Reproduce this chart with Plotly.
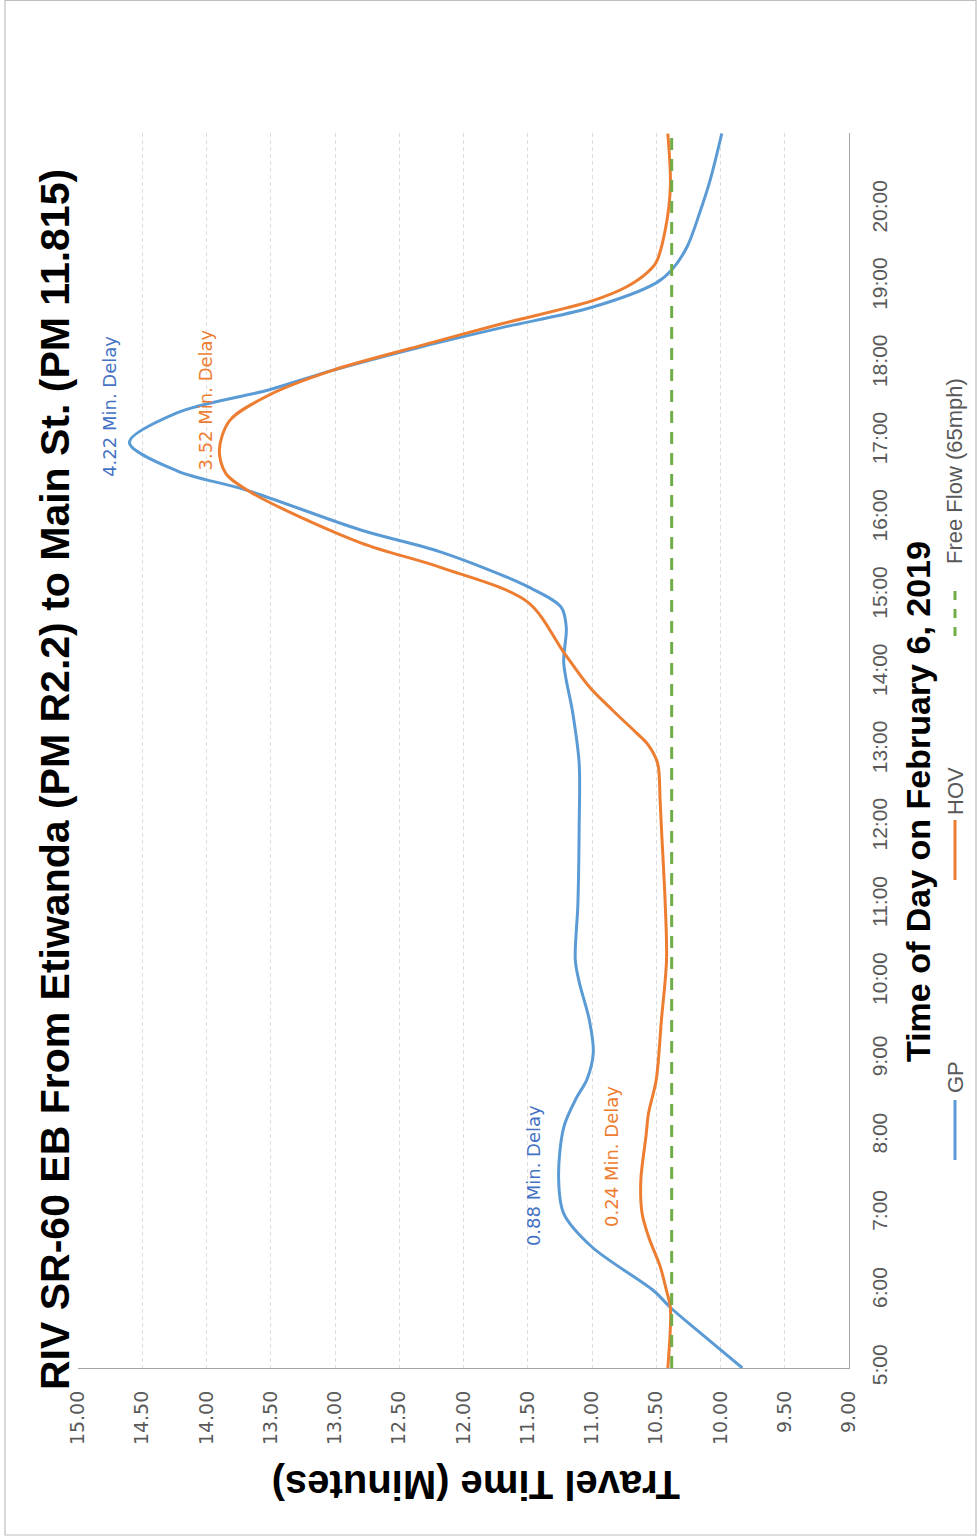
import plotly.graph_objects as go

# ---- data -------------------------------------------------------------
gp_times = ["05:00", "05:30", "05:47", "06:00", "06:34", "07:00", "07:28", "08:07",
            "08:30", "08:44", "09:05", "09:30", "10:00", "10:17", "11:00", "12:00",
            "12:50", "13:29", "14:08", "14:35", "14:51", "15:07", "15:34", "15:51",
            "16:22", "16:37", "16:59", "17:22", "17:40", "17:55", "18:13",
            "18:28", "18:44", "19:03", "19:13", "19:31", "19:58", "20:23", "20:59"]
gp_minutes = [9.83, 10.19, 10.39, 10.52, 11.00, 11.22, 11.26, 11.22,
              11.12, 11.04, 10.99, 11.02, 11.10, 11.13, 11.11, 11.10,
              11.10, 11.15, 11.22, 11.20, 11.24, 11.50, 12.18, 12.80,
              13.69, 14.23, 14.60, 14.23, 13.51, 13.02, 12.34,
              11.71, 11.00, 10.50, 10.38, 10.26, 10.16, 10.08, 9.99]

hov_times = ["05:00", "05:47", "06:00", "06:19", "06:42", "07:00", "07:26", "08:00",
             "08:18", "08:44", "09:30", "10:17", "11:00", "12:00", "12:21", "12:50",
             "13:05", "13:13", "13:31", "13:49", "14:16", "14:55", "15:22", "15:41",
             "16:20", "16:35", "16:53", "17:16", "17:36", "17:55", "18:14", "18:31",
             "18:49", "19:00", "19:11", "19:19", "19:44", "20:18", "20:59"]
hov_minutes = [10.41, 10.39, 10.42, 10.47, 10.56, 10.61, 10.62, 10.58,
               10.56, 10.50, 10.46, 10.42, 10.43, 10.46, 10.47, 10.49,
               10.57, 10.65, 10.84, 11.02, 11.22, 11.50, 12.18, 12.80,
               13.65, 13.85, 13.90, 13.82, 13.51, 13.02, 12.34, 11.71,
               11.00, 10.73, 10.57, 10.50, 10.43, 10.39, 10.41]

free_flow_minutes = 10.38
free_flow_times = ["05:00", "20:59"]

# delay call-outs: time of the peak and delay over free flow, in minutes
gp_delay_times = ["07:28", "16:59"]
gp_delays = [0.88, 4.22]
hov_delay_times = ["07:26", "16:53"]
hov_delays = [0.24, 3.52]

time_ticks = ["5:00", "6:00", "7:00", "8:00", "9:00", "10:00", "11:00", "12:00",
              "13:00", "14:00", "15:00", "16:00", "17:00", "18:00", "19:00", "20:00"]
minute_ticks = [9.0, 9.5, 10.0, 10.5, 11.0, 11.5, 12.0, 12.5, 13.0, 13.5, 14.0, 14.5, 15.0]


def hours(t):
    h, m = t.split(":")
    return int(h) + int(m) / 60.0


GP_COLOR = "#5B9BD5"
HOV_COLOR = "#ED7D31"
FF_COLOR = "#70AD47"
TEXT_GRAY = "#595959"
SANS = "Liberation Sans, Arial, sans-serif"
WIDE = "DejaVu Sans, Verdana, sans-serif"

# plot-area box in pixels, used to place the rotated decorations
W, H = 980, 1538
L, R, T, B = 78, 849, 133, 1368


def px(x):
    return (x - L) / (R - L)


def py(y):
    return (B - y) / (B - T)


fig = go.Figure()

fig.add_trace(go.Scatter(
    x=gp_minutes, y=[hours(t) for t in gp_times], name="GP", mode="lines",
    line=dict(color=GP_COLOR, width=3, shape="spline", smoothing=0.9),
    hoverinfo="skip"))
fig.add_trace(go.Scatter(
    x=hov_minutes, y=[hours(t) for t in hov_times], name="HOV", mode="lines",
    line=dict(color=HOV_COLOR, width=3, shape="spline", smoothing=0.9),
    hoverinfo="skip"))
fig.add_trace(go.Scatter(
    x=[free_flow_minutes] * len(free_flow_times),
    y=[hours(t) for t in free_flow_times], name="Free Flow (65mph)", mode="lines",
    line=dict(color=FF_COLOR, width=3, dash="12px,9px"),
    hoverinfo="skip"))

annotations = []

# delay labels placed beside the peaks they describe
label_offsets = {"GP": [(-25, 2), (-20, 36)], "HOV": [(-30, 24), (-14, 50)]}
for name, color, times, delays in (("GP", "#4472C4", gp_delay_times, gp_delays),
                                    ("HOV", HOV_COLOR, hov_delay_times, hov_delays)):
    for (t, d), (dx, dy) in zip(zip(times, delays), label_offsets[name]):
        annotations.append(dict(
            x=free_flow_minutes + d, y=hours(t), xref="x", yref="y",
            text=f"{d:.2f} Min. Delay", showarrow=False, textangle=-90,
            xshift=dx, yshift=dy,
            font=dict(family=WIDE, size=18, color=color)))

# chart title
annotations.append(dict(
    x=px(55), y=py(780), xref="paper", yref="paper",
    text="RIV SR-60 EB From Etiwanda (PM R2.2) to Main St. (PM 11.815)",
    showarrow=False, textangle=-90, xanchor="center", yanchor="middle",
    font=dict(family=SANS, size=41, color="#000000", weight="bold")))

# axis titles
annotations.append(dict(
    x=px(918), y=py(801), xref="paper", yref="paper",
    text="Time of Day on February 6, 2019",
    showarrow=False, textangle=-90, xanchor="center", yanchor="middle",
    font=dict(family=SANS, size=34, color="#000000", weight="bold")))
annotations.append(dict(
    x=px(476), y=py(1485), xref="paper", yref="paper",
    text="Travel Time (Minutes)",
    showarrow=False, textangle=180, xanchor="center", yanchor="middle",
    font=dict(family=SANS, size=40, color="#000000", weight="bold")))

shapes = []

# legend, drawn sideways along the right edge
legend_items = [("GP", GP_COLOR, "solid", 1100, 1160, 1077),
                ("HOV", HOV_COLOR, "solid", 820, 880, 791),
                ("Free Flow (65mph)", FF_COLOR, "dash", 582, 636, 471)]
for text, color, dash, y0, y1, ty in legend_items:
    shapes.append(dict(type="line", xref="paper", yref="paper",
                       x0=px(955), x1=px(955), y0=py(y1), y1=py(y0),
                       line=dict(color=color, width=3, dash=dash)))
    annotations.append(dict(
        x=px(955), y=py(ty), xref="paper", yref="paper", text=text,
        showarrow=False, textangle=-90, xanchor="center", yanchor="middle",
        font=dict(family=SANS, size=22, color=TEXT_GRAY)))

# outer frame of the chart
shapes.append(dict(type="rect", xref="paper", yref="paper",
                   x0=px(5), x1=px(976), y0=py(1535), y1=py(0.5),
                   line=dict(color="#BFBFBF", width=1.2), fillcolor="rgba(0,0,0,0)",
                   layer="below"))

fig.update_layout(
    width=W, height=H,
    margin=dict(l=L, r=W - R, t=T, b=H - B, pad=0),
    paper_bgcolor="white", plot_bgcolor="white",
    showlegend=False,
    annotations=annotations,
    shapes=shapes,
    xaxis=dict(
        range=[15, 9], tickvals=minute_ticks,
        ticktext=[f"{v:.2f}" for v in minute_ticks],
        tickangle=-90, ticks="", ticklabelstandoff=14,
        tickfont=dict(family=WIDE, size=19, color=TEXT_GRAY),
        showgrid=True, gridcolor="#DDDDDD", griddash="4px,3px", gridwidth=1,
        zeroline=False, showline=True, linecolor="#A6A6A6", linewidth=1.2,
        fixedrange=True),
    yaxis=dict(
        range=[5, 20.99], side="right",
        tickvals=[hours(t) for t in time_ticks], ticktext=time_ticks,
        tickangle=-90, ticks="", ticklabelstandoff=12,
        tickfont=dict(family=SANS, size=21, color=TEXT_GRAY),
        showgrid=False, zeroline=False, showline=True, linecolor="#A6A6A6",
        linewidth=1.2, fixedrange=True),
)

fig.write_html("out.html")
